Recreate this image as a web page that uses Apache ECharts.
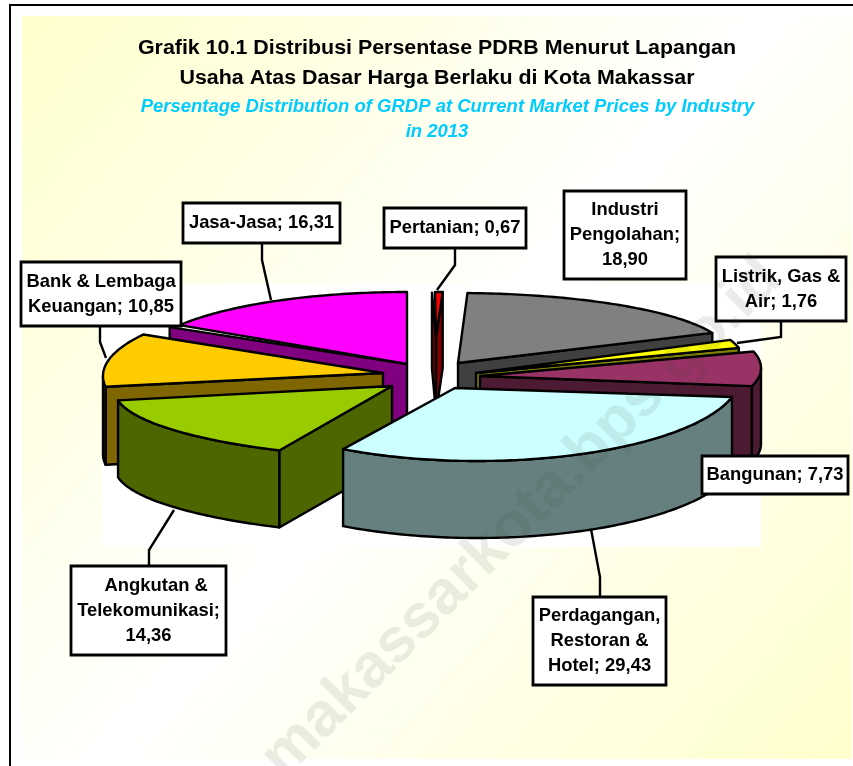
<!DOCTYPE html>
<html><head><meta charset="utf-8">
<style>html,body{margin:0;padding:0;background:#fff}#c{width:853px;height:766px}</style>
<script src="https://cdn.jsdelivr.net/npm/echarts@6/dist/echarts.min.js"></script>
</head><body><div id="c"></div>
<script>
const categories = ['Pertanian','Industri Pengolahan','Listrik, Gas & Air','Bangunan','Perdagangan, Restoran & Hotel','Angkutan & Telekomunikasi','Bank & Lembaga Keuangan','Jasa-Jasa'];
const shares = [0.67,18.90,1.76,7.73,29.43,14.36,10.85,16.31];
const labelTemplates = ['Pertanian; {v}','Industri\nPengolahan;\n{v}','Listrik, Gas &\nAir; {v}','Bangunan; {v}','Perdagangan,\nRestoran &\nHotel; {v}','   Angkutan &\nTelekomunikasi;\n{v}','Bank & Lembaga\nKeuangan; {v}','Jasa-Jasa; {v}'];
const titleLines = ['Grafik 10.1 Distribusi Persentase PDRB Menurut Lapangan','Usaha Atas Dasar Harga Berlaku di Kota Makassar'];
const subtitleLines = ['Persentage Distribution of GRDP at Current Market Prices by Industry','in 2013'];
const watermarkText = 'makassarkota.bps.go.id';

const faceColors = ['#FF0000','#808080','#FFFF00','#993366','#CCFFFF','#99CC00','#FFCC00','#FF00FF'];
const wallColors = ['#800000','#404040','#808000','#4D1A33','#668080','#4D6600','#806600','#800080'];
// back-to-front painting order of the slices
const paintOrder = [0,7,1,2,3,6,5,4];
// tip of the wedge, ellipse centre and radii of each exploded slice (layout only)
const sliceLayout = [
  {tip:[436,337],c:[435,364],rx:183,ry:72,h:76,flare:-3},
  {tip:[458,363],c:[456,353],rx:272,ry:60,h:76,flare:0},
  {tip:[476,373],c:[474,365],rx:272,ry:75,h:76,flare:0},
  {tip:[480,376],c:[480,368],rx:281,ry:72,h:76,flare:0},
  {tip:[455,388],c:[477,375.5],rx:263.5,ry:85.5,h:77,flare:0},
  {tip:[392,386],c:[449,391],rx:334,ry:69,h:77,flare:0},
  {tip:[383,373],c:[382,376],rx:279,ry:80,h:78,flare:0},
  {tip:[407,364],c:[407,361],rx:266,ry:69,h:76,flare:-10}
];
const labelBoxes = [[384,208,142,40],[564,191,122,88],[716,257,130,64],[702,456,146,38],[533,597,133,88],[71,566,155,89],[21,262,160,64],[183,203,157,40]];
const leaders = [
  [[455,248],[455,265],[437,290]],
  null,
  [[781,321],[781,337],[737,343]],
  null,
  [[600,597],[600,577],[591,529]],
  [[149,566],[149,550],[174,510]],
  [[100,326],[100,342],[106,358]],
  [[262,243],[262,260],[271,300]]
];

const total = shares.reduce((a,b)=>a+b,0);
const startAngles = [];
shares.reduce((acc,v,i)=>{startAngles[i]=acc;return acc+v/total*360;},0);
const RAD = Math.PI/180;

function ringPoint(g,deg){
  return [g.c[0]+g.rx*Math.sin(deg*RAD), g.c[1]-g.ry*Math.cos(deg*RAD)];
}
function arc(g,a0,a1){
  const pts=[]; const n=Math.max(2,Math.ceil(Math.abs(a1-a0)));
  for(let k=0;k<=n;k++) pts.push(ringPoint(g,a0+(a1-a0)*k/n));
  return pts;
}
const down=(p,h)=>[p[0],p[1]+h];
function poly(points,fill){
  return {type:'polygon',shape:{points},style:{fill,stroke:'#000',lineWidth:2.4,lineJoin:'round'}};
}
function renderSlice(params,api){
  const i=api.value(0), share=api.value(1);
  const g=sliceLayout[i];
  const a0=startAngles[i], a1=a0+share/total*360;
  const wall=wallColors[i], face=faceColors[i];
  const children=[];
  const p0=ringPoint(g,a0), p1=ringPoint(g,a1);
  // only the radial walls that face the viewer are drawn
  if(Math.sin(a0*RAD)<-1e-6 || g.flare){
    const p0f=[p0[0]+g.flare,p0[1]-g.flare*0.2];
    children.push(poly([g.tip,p0f,down(p0f,g.h),down(g.tip,g.h)],wall));
  }
  if(Math.sin(a1*RAD)>1e-6){
    children.push(poly([g.tip,p1,down(p1,g.h),down(g.tip,g.h)],wall));
  }
  const f0=Math.max(a0,90), f1=Math.min(a1,270);
  if(f1>f0){
    const top=arc(g,f0,f1);
    const bottom=top.map(p=>down(p,g.h)).reverse();
    children.push(poly(top.concat(bottom),wall));
  }
  children.push(poly([g.tip].concat(arc(g,a0,a1)),face));
  return {type:'group',children};
}

const textFont='"Liberation Sans", Arial, sans-serif';
const elements=[];
elements.push({type:'rect',z:-10,shape:{x:22,y:16,width:830,height:743},silent:true,
  style:{fill:new echarts.graphic.LinearGradient(0,0,1,1,[{offset:0,color:'#FFFFCC'},{offset:0.5,color:'#FFFFFF'},{offset:1,color:'#FFFFCC'}])}});
elements.push({type:'rect',z:-9,shape:{x:102,y:284,width:659,height:263},silent:true,style:{fill:'#FFFFFF'}});
elements.push({type:'polyline',z:-8,shape:{points:[[10,766],[10,5],[853,5]]},silent:true,style:{stroke:'#000',lineWidth:2,fill:'none'}});

const titleY=[48,78], subY=[107,132], subX=[447.5,437];
titleLines.forEach((t,i)=>elements.push({type:'text',z:10,silent:true,x:437,y:titleY[i],scaleX:1.07,
  style:{text:t,fill:'#000',font:'bold 20px '+textFont,textAlign:'center',textVerticalAlign:'middle'}}));
subtitleLines.forEach((t,i)=>elements.push({type:'text',z:10,silent:true,x:subX[i],y:subY[i],
  style:{text:t,fill:'#00CCFF',font:'italic bold 18.5px '+textFont,textAlign:'center',textVerticalAlign:'middle'}}));

leaders.forEach(l=>{ if(l) elements.push({type:'polyline',z:20,silent:true,shape:{points:l},style:{stroke:'#000',lineWidth:2.4,fill:'none'}}); });
labelBoxes.forEach((b,i)=>{
  elements.push({type:'rect',z:21,silent:true,shape:{x:b[0],y:b[1],width:b[2],height:b[3]},style:{fill:'#fff',stroke:'#000',lineWidth:2.8}});
  const txt=labelTemplates[i].replace('{v}',shares[i].toFixed(2).replace('.',','));
  elements.push({type:'text',z:22,silent:true,x:b[0]+b[2]/2,y:b[1]+b[3]/2,
    style:{text:txt,fill:'#000',font:'bold 18.4px '+textFont,lineHeight:25,textAlign:'center',textVerticalAlign:'middle'}});
});
elements.push({type:'text',z:30,silent:true,x:294,y:790,rotation:45*RAD,originX:0,originY:0,
  style:{text:watermarkText,fill:'rgba(60,70,50,0.10)',font:'bold 62px '+textFont,textAlign:'left',textVerticalAlign:'bottom'}});

const chart=echarts.init(document.getElementById('c'),null,{renderer:'canvas'});
chart.setOption({
  animation:false,
  backgroundColor:'#fff',
  graphic:{elements},
  series:[{
    type:'custom',coordinateSystem:'none',silent:true,clip:false,z:5,
    renderItem:renderSlice,
    dimensions:['slice','share'],
    data:paintOrder.map(i=>({name:categories[i],value:[i,shares[i]]}))
  }]
});
</script></body></html>
